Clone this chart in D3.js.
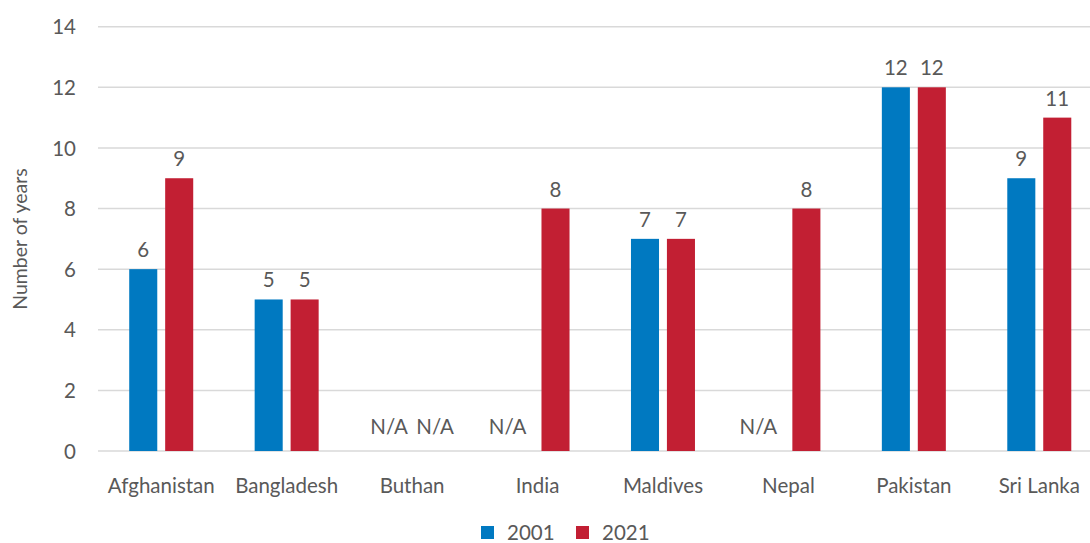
<!DOCTYPE html>
<html>
<head>
<meta charset="utf-8">
<script src="https://cdn.jsdelivr.net/npm/d3@7"></script>
<style>
  body { margin: 0; background: #fff; }
  svg text { font-family: Lato, "Open Sans", sans-serif; fill: #595959; }
</style>
</head>
<body>
<svg id="chart" width="1090" height="543"></svg>
<script>
// data (null = N/A)
var countries = ["Afghanistan", "Bangladesh", "Buthan", "India", "Maldives", "Nepal", "Pakistan", "Sri Lanka"];
var years = ["2001", "2021"];
var values2001 = [6, 5, null, null, 7, null, 12, 9];
var values2021 = [9, 5, null, 8, 7, 8, 12, 11];
var yTicks = [0, 2, 4, 6, 8, 10, 12, 14];
var colors = ["#0079C1", "#C21F33"];

var svg = d3.select("#chart");

var x = d3.scaleBand().domain(countries).range([98.5, 1102]).padding(0);
var xs = d3.scaleBand().domain(years).range([0, 64]).paddingInner(0.22);
var y = d3.scaleLinear().domain([0, 14]).range([451, 26.7]);

// gridlines
svg.append("g").selectAll("line")
    .data(yTicks)
    .enter()
    .append("line")
    .attr("x1", 98)
    .attr("x2", 1090)
    .attr("y1", function(d) { return y(d); })
    .attr("y2", function(d) { return y(d); })
    .attr("stroke", "#d9d9d9")
    .attr("stroke-width", 1.5);

// y axis (no line, just labels)
var yAxis = svg.append("g")
    .attr("transform", "translate(76,0)")
    .call(d3.axisLeft(y).tickValues(yTicks).tickSize(0).tickPadding(0));
yAxis.select(".domain").remove();
yAxis.selectAll("text")
    .style("font-size", "20.5px")
    .attr("dy", "0.35em");

svg.append("text")
    .attr("transform", "translate(27,239) rotate(-90)")
    .attr("text-anchor", "middle")
    .style("font-size", "19.5px")
    .text("Number of years");

// x axis labels
var xAxis = svg.append("g")
    .attr("transform", "translate(0,451)")
    .call(d3.axisBottom(x).tickSize(0).tickPadding(27));
xAxis.select(".domain").remove();
xAxis.selectAll("text").style("font-size", "20.5px");

var rows = countries.map(function(c, i) {
    return { country: c, vals: [
        { year: years[0], v: values2001[i], other: values2021[i] },
        { year: years[1], v: values2021[i], other: values2001[i] }
    ]};
});

var groups = svg.append("g").selectAll("g")
    .data(rows)
    .enter()
    .append("g")
    .attr("transform", function(d) {
        return "translate(" + (x(d.country) + x.bandwidth() / 2 - 32) + ",0)";
    });

groups.selectAll("rect")
    .data(function(d) { return d.vals.filter(function(e) { return e.v !== null; }); })
    .enter()
    .append("rect")
    .attr("x", function(d) { return xs(d.year); })
    .attr("width", xs.bandwidth())
    .attr("y", function(d) { return y(d.v); })
    .attr("height", function(d) { return y(0) - y(d.v); })
    .attr("fill", function(d) { return colors[years.indexOf(d.year)]; });

// N/A labels get pushed apart so they don't run into each other / the bar
function naShift(d) {
    var dir = years.indexOf(d.year) === 0 ? -1 : 1;
    return d.other === null ? dir * 5 : dir * 12;
}

groups.selectAll("text.val")
    .data(function(d) { return d.vals; })
    .enter()
    .append("text")
    .attr("class", "val")
    .attr("x", function(d) {
        var cx = xs(d.year) + xs.bandwidth() / 2;
        return d.v === null ? cx + naShift(d) : cx;
    })
    .attr("y", function(d) { return d.v === null ? y(0) - 17 : y(d.v) - 12; })
    .attr("text-anchor", "middle")
    .style("font-size", "20.5px")
    .text(function(d) { return d.v === null ? "N/A" : d.v; });

// legend
var legend = svg.append("g").selectAll("g")
    .data(years)
    .enter()
    .append("g")
    .attr("transform", function(d, i) { return "translate(" + (481 + i * 95) + ",526)"; });
legend.append("rect")
    .attr("width", 13)
    .attr("height", 13)
    .attr("fill", function(d, i) { return colors[i]; });
legend.append("text")
    .attr("x", 26)
    .attr("y", 13.5)
    .style("font-size", "20.5px")
    .text(function(d) { return d; });
</script>
</body>
</html>
